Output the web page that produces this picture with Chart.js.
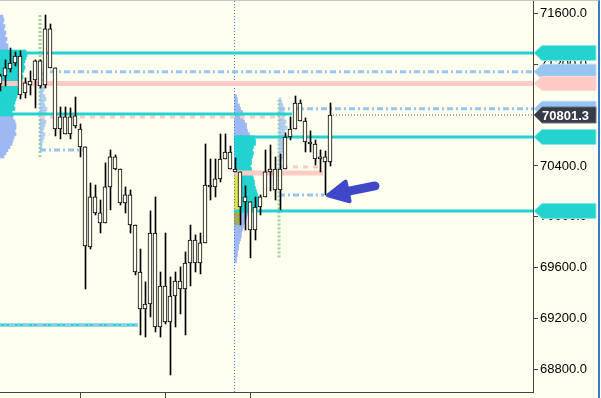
<!DOCTYPE html>
<html lang="en">
<head>
  <meta charset="UTF-8" />
  <title>Price chart</title>
  <script src="https://cdn.jsdelivr.net/npm/chart.js"></script>
  <style>
    body { margin: 0; background: #fff; }
    .frame {
      width: 598px;
      height: 397px;
      border-top: 1px solid #c4c4c4;
      border-right: 2px solid #3a78c9;
      background: #fffff0;
    }
    canvas { display: block; }
  </style>
</head>
<body>
  <div class="frame"><canvas id="chart" width="598" height="397"></canvas></div>

  <script>
    // candles (index = bar number from the left edge)
    const open = [71046, 71109, 71164, 71211, 71266, 70975, 71069, 71077, 71227, 71038,
      71479, 71172, 70691, 70786, 70652, 70794, 70691, 70550, 69762, 70156,
      70030, 69951, 70235, 70471, 70376, 70109, 70172, 69935, 69565, 69274,
      69313, 69872, 69132, 69455, 69172, 69376, 69494, 69431, 69636, 69817,
      69636, 69794, 70250, 70235, 70298, 70455, 70510, 70376, 70353, 70117,
      70117, 69896, 70077, 70156, 70353, 70376, 70211, 70376, 70628, 70691,
      70896, 70754, 70589, 70573, 70455, 70471, 70431];
    const close = [71109, 71172, 71211, 71266, 70959, 71054, 71038, 71227, 71030, 71479,
      71172, 70691, 70786, 70652, 70786, 70715, 70550, 69770, 70156, 70030,
      69951, 70235, 70471, 70376, 70109, 70172, 69935, 69565, 69274, 69313,
      69872, 69132, 69455, 69172, 69376, 69494, 69431, 69636, 69817, 69636,
      69794, 70250, 70235, 70298, 70455, 70510, 70376, 70353, 70077, 70156,
      69896, 70077, 70156, 70353, 70376, 70211, 70376, 70628, 70691, 70896,
      70754, 70589, 70573, 70455, 70471, 70431, 70801.3];
    const high = [71124, 71235, 71329, 71298, 71306, 71093, 71148, 71235, 71235, 71589,
      71518, 71172, 70865, 70865, 70857, 70943, 70731, 70550, 70266, 70250,
      70132, 70424, 70526, 70487, 70376, 70235, 70211, 69935, 69746, 69487,
      70046, 70156, 69565, 69872, 69526, 69565, 69605, 69723, 69935, 69857,
      69872, 70573, 70455, 70455, 70652, 70652, 70557, 70463, 70353, 70243,
      70117, 70156, 70172, 70526, 70565, 70471, 70494, 70660, 70786, 70951,
      70920, 70778, 70676, 70605, 70526, 70518, 70896];
    const low = [70991, 71030, 71140, 71187, 70928, 70935, 70959, 70857, 71014, 71014,
      71172, 70636, 70613, 70652, 70613, 70699, 70471, 69431, 69746, 70014,
      69872, 69951, 70054, 70369, 70093, 70030, 69872, 69542, 69069, 69053,
      69211, 69093, 69053, 69156, 68754, 69132, 69235, 69069, 69455, 69565,
      69550, 69794, 70132, 70156, 70274, 70455, 70376, 70353, 69935, 69896,
      69676, 69817, 70014, 70156, 70203, 70132, 70054, 70376, 70605, 70691,
      70754, 70510, 70510, 70408, 70353, 70172, 70400];

    const yTicks = [68800, 69200, 69600, 70000, 70400, 70800, 71200, 71600];
    const xTicks = [16, 33, 50];
    const xMin = 0, xMax = 106.6;
    const yMin = 68620, yMax = 71699;

    // horizontal levels: price, first bar, last bar
    const cyanLevels = [71290, 70809, 70628, 70046, 69148];
    const cyanStart = [-1, -1, 46.9, 46.9, -1];
    const cyanEnd = [110, 58.4, 110, 110, 27.6];
    const blueLevels = [71142, 70850, 70526, 70172, 69148];
    const blueStart = [10, 55.8, 8, 55.8, -1];
    const blueEnd = [110, 110, 16.6, 64.8, 27.6];
    const pinkDashLevels = [70786, 70392];
    const pinkDashStart = [8, 56.6];
    const pinkDashEnd = [56.6, 64];
    const pocLevels = [71050, 70345];
    const pocStart = [-1, 46.9];
    const pocEnd = [110, 64.6];
    const sessionBreaks = [46.9];

    // volume profiles (rows every 25 points, volume per row)
    const profileStep = 25;
    const profileATop = 71575, profileAStart = 0;
    const profileAVol = [3, 4, 3, 5, 4, 6, 5, 7, 6, 8, 8, 26, 27, 26, 25, 24, 25, 24, 22, 23,
      22, 21, 20, 20, 18, 17, 16, 15, 14, 15, 12, 13, 13, 15, 16, 16, 15, 16, 14, 13,
      12, 10, 8, 6, 4];
    const profileAValueArea = [70790, 71300];
    const profileBTop = 70950, profileBStart = 46.9;
    const profileBVol = [2, 3, 3, 5, 6, 8, 9, 8, 10, 12, 12, 13, 15,
      20, 21, 21, 19, 18, 19, 18, 17, 17, 16, 17, 18, 18, 19, 20, 20, 21, 22, 23, 24, 24, 24, 23, 22,
      13, 12, 11, 10, 9, 8, 7, 7, 6, 5, 4, 4, 3, 3, 2, 2];
    const profileBValueArea = [70040, 70640];
    const profileBDevTop = 70350;
    const profileBDevVol = [5, 6, 6, 6, 6, 6, 6, 6, 6, 6, 6, 6, 6, 6, 5, 5, 4];
    const profileCTop = 71150, profileCStart = 8;
    const profileCVol = [2, 3, 2, 4, 3, 5, 4, 3, 5, 6, 4, 5, 7, 6, 5, 4, 6, 5, 4, 3, 5, 4, 3, 2, 2, 1];
    const profileCRange = [70470, 71590];
    const profileDTop = 70925, profileDStart = 55.8;
    const profileDVol = [2, 3, 4, 3, 5, 6, 5, 7, 6, 8, 6, 5, 7, 6, 5, 4, 5, 3, 4, 3, 2, 3, 2, 2, 1, 1];
    const profileDRange = [69680, 70920];

    // hand drawn arrow: tail and tip (bar, price)
    const arrowTail = [75, 70243];
    const arrowTip = [65.6, 70168];

    const CYAN = '#22d3d0', BLUE = '#96c5f1', PINK = '#ffcbc4', BG = '#fffff0';
    const volUnit = 0.2; // bars per volume unit

    function segment(price, from, to) {
      return [{ x: from, y: price }, { x: to, y: price }];
    }
    function lineSet(data, color, width, dash, order) {
      return {
        type: 'line', data, borderColor: color, borderWidth: width, borderDash: dash,
        borderCapStyle: 'butt', pointRadius: 0, order, clip: 0
      };
    }
    function profileSet(top, start, vols, colorFor, order) {
      const rows = vols.map((v, i) => ({ y: top - i * profileStep, x: [start, start + v * volUnit] }));
      return {
        type: 'bar', indexAxis: 'y', data: rows, grouped: false, barThickness: 3.3,
        backgroundColor: rows.map(r => colorFor(r.y)), borderWidth: 0, order, clip: 0
      };
    }

    const datasets = [];
    datasets.push({
      type: 'bar', data: open.map((o, i) => ({ x: i, y: [o, close[i]] })),
      backgroundColor: BG, borderColor: '#000', borderWidth: 1, borderSkipped: false,
      barThickness: 4, grouped: false, order: 0, clip: 0
    });
    datasets.push({
      type: 'bar', xAxisID: 'xw', data: low.map((l, i) => ({ x: i, y: [l, high[i]] })),
      backgroundColor: '#000', borderWidth: 0, barThickness: 1, grouped: false, order: 1, clip: 0
    });
    datasets.push(lineSet(segment(close[close.length - 1], close.length - 1, 110), '#555', 1, [1, 2], 2));
    blueLevels.forEach((p, i) => datasets.push(lineSet(segment(p, blueStart[i], blueEnd[i]), BLUE, 3, [6, 3, 2, 3], 3)));
    cyanLevels.forEach((p, i) => datasets.push(lineSet(segment(p, cyanStart[i], cyanEnd[i]), CYAN, 3, [], 4)));
    pinkDashLevels.forEach((p, i) => datasets.push(lineSet(segment(p, pinkDashStart[i], pinkDashEnd[i]), PINK, 3, [5, 5], 5)));
    pocLevels.forEach((p, i) => datasets.push(lineSet(segment(p, pocStart[i], pocEnd[i]), PINK, 5, [], 6)));
    sessionBreaks.forEach(b => datasets.push(lineSet([{ x: b, y: yMin }, { x: b, y: yMax }], '#3b82f0', 1, [1, 2], 7)));

    const inside = (p, r) => p >= r[0] && p <= r[1];
    datasets.push(profileSet(profileBDevTop, profileBStart, profileBDevVol,
      p => p >= profileBValueArea[0] ? '#e4e046' : '#a9ab45', 8));
    datasets.push(profileSet(profileATop, profileAStart, profileAVol,
      p => inside(p, profileAValueArea) ? CYAN : '#9db8f3', 9));
    datasets.push(profileSet(profileBTop, profileBStart, profileBVol,
      p => inside(p, profileBValueArea) ? CYAN : '#9db8f3', 9));
    datasets.push(profileSet(profileCTop, profileCStart, profileCVol, () => 'rgba(150,190,240,0.7)', 10));
    datasets.push(profileSet(profileDTop, profileDStart, profileDVol, () => 'rgba(150,190,240,0.7)', 10));
    datasets.push(lineSet([{ x: profileCStart, y: profileCRange[0] }, { x: profileCStart, y: profileCRange[1] }],
      'rgba(120,190,120,0.7)', 3, [2, 2], 11));
    datasets.push(lineSet([{ x: profileDStart, y: profileDRange[0] }, { x: profileDStart, y: profileDRange[1] }],
      'rgba(120,190,120,0.7)', 3, [2, 2], 11));

    const arrowPlugin = {
      id: 'arrow',
      afterDatasetsDraw(chart) {
        const { ctx, scales: { x, y } } = chart;
        const x0 = x.getPixelForValue(arrowTail[0]), y0 = y.getPixelForValue(arrowTail[1]);
        const x1 = x.getPixelForValue(arrowTip[0]), y1 = y.getPixelForValue(arrowTip[1]);
        const ang = Math.atan2(y1 - y0, x1 - x0);
        const bx = x1 - Math.cos(ang) * 20, by = y1 - Math.sin(ang) * 20;
        ctx.save();
        ctx.strokeStyle = ctx.fillStyle = '#3f48c9';
        ctx.lineCap = ctx.lineJoin = 'round';
        ctx.lineWidth = 9;
        ctx.beginPath();
        ctx.moveTo(x0, y0);
        ctx.lineTo(bx, by);
        ctx.stroke();
        ctx.lineWidth = 4;
        ctx.beginPath();
        ctx.moveTo(x1, y1);
        ctx.lineTo(bx - Math.sin(ang) * 10, by + Math.cos(ang) * 10);
        ctx.lineTo(bx + Math.sin(ang) * 10, by - Math.cos(ang) * 10);
        ctx.closePath();
        ctx.fill();
        ctx.stroke();
        ctx.restore();
      }
    };

    // price tags on the right axis for the levels that reach the right edge
    const tagPlugin = {
      id: 'tags',
      afterDraw(chart) {
        const { ctx, chartArea, scales: { y } } = chart;
        const xl = chartArea.right + 1, xr = chart.width - 2;
        function tag(price, fill, edge, h) {
          const py = y.getPixelForValue(price);
          ctx.beginPath();
          ctx.moveTo(xl, py);
          ctx.lineTo(xl + 8, py - h);
          ctx.lineTo(xr, py - h);
          ctx.lineTo(xr, py + h);
          ctx.lineTo(xl + 8, py + h);
          ctx.closePath();
          ctx.fillStyle = fill;
          ctx.fill();
          ctx.strokeStyle = edge;
          ctx.lineWidth = 1;
          ctx.stroke();
          return py;
        }
        ctx.save();
        cyanLevels.forEach((p, i) => { if (cyanEnd[i] >= xMax) tag(p, CYAN, '#8ee6e3', 7.5); });
        blueLevels.forEach((p, i) => { if (blueEnd[i] >= xMax) tag(p, BLUE, '#b9d9f6', 7.5); });
        pocLevels.forEach((p, i) => { if (pocEnd[i] >= xMax) tag(p, PINK, '#ffdcd7', 7); });
        const last = close[close.length - 1];
        const py = tag(last, '#363b47', '#6b7080', 8);
        ctx.fillStyle = '#fff';
        ctx.font = 'bold 13px "Liberation Sans"';
        ctx.textBaseline = 'middle';
        ctx.fillText(last.toFixed(1), xl + 8, py + 1);
        ctx.restore();
      }
    };

    Chart.defaults.font.family = '"Liberation Sans", Arial, sans-serif';

    new Chart(document.getElementById('chart'), {
      type: 'bar',
      data: { datasets },
      options: {
        responsive: false,
        devicePixelRatio: 1,
        animation: false,
        events: [],
        layout: { padding: 0, autoPadding: false },
        plugins: { legend: { display: false }, tooltip: { enabled: false } },
        scales: {
          x: {
            type: 'linear', position: 'bottom', min: xMin, max: xMax, offset: false,
            grid: { drawOnChartArea: false, tickLength: 6, color: '#444', offset: false },
            border: { color: '#444' },
            ticks: { display: false },
            afterBuildTicks: s => { s.ticks = xTicks.map(v => ({ value: v })); },
            afterFit: s => { s.height = 6; s.paddingLeft = 0; s.paddingRight = 0; }
          },
          xw: { type: 'linear', display: false, min: xMin - 0.1, max: xMax - 0.1, offset: false },
          y: {
            type: 'linear', position: 'right', min: yMin, max: yMax, beginAtZero: false, offset: false,
            grid: { drawOnChartArea: false, tickLength: 5, color: '#444', offset: false },
            border: { color: '#444' },
            ticks: { color: '#000', padding: 2, font: { size: 13 }, callback: v => v.toFixed(1) },
            afterBuildTicks: s => { s.ticks = yTicks.map(v => ({ value: v })); },
            afterFit: s => { s.width = 65; s.paddingTop = 0; s.paddingBottom = 0; }
          }
        }
      },
      plugins: [arrowPlugin, tagPlugin]
    });
  </script>
</body>
</html>
